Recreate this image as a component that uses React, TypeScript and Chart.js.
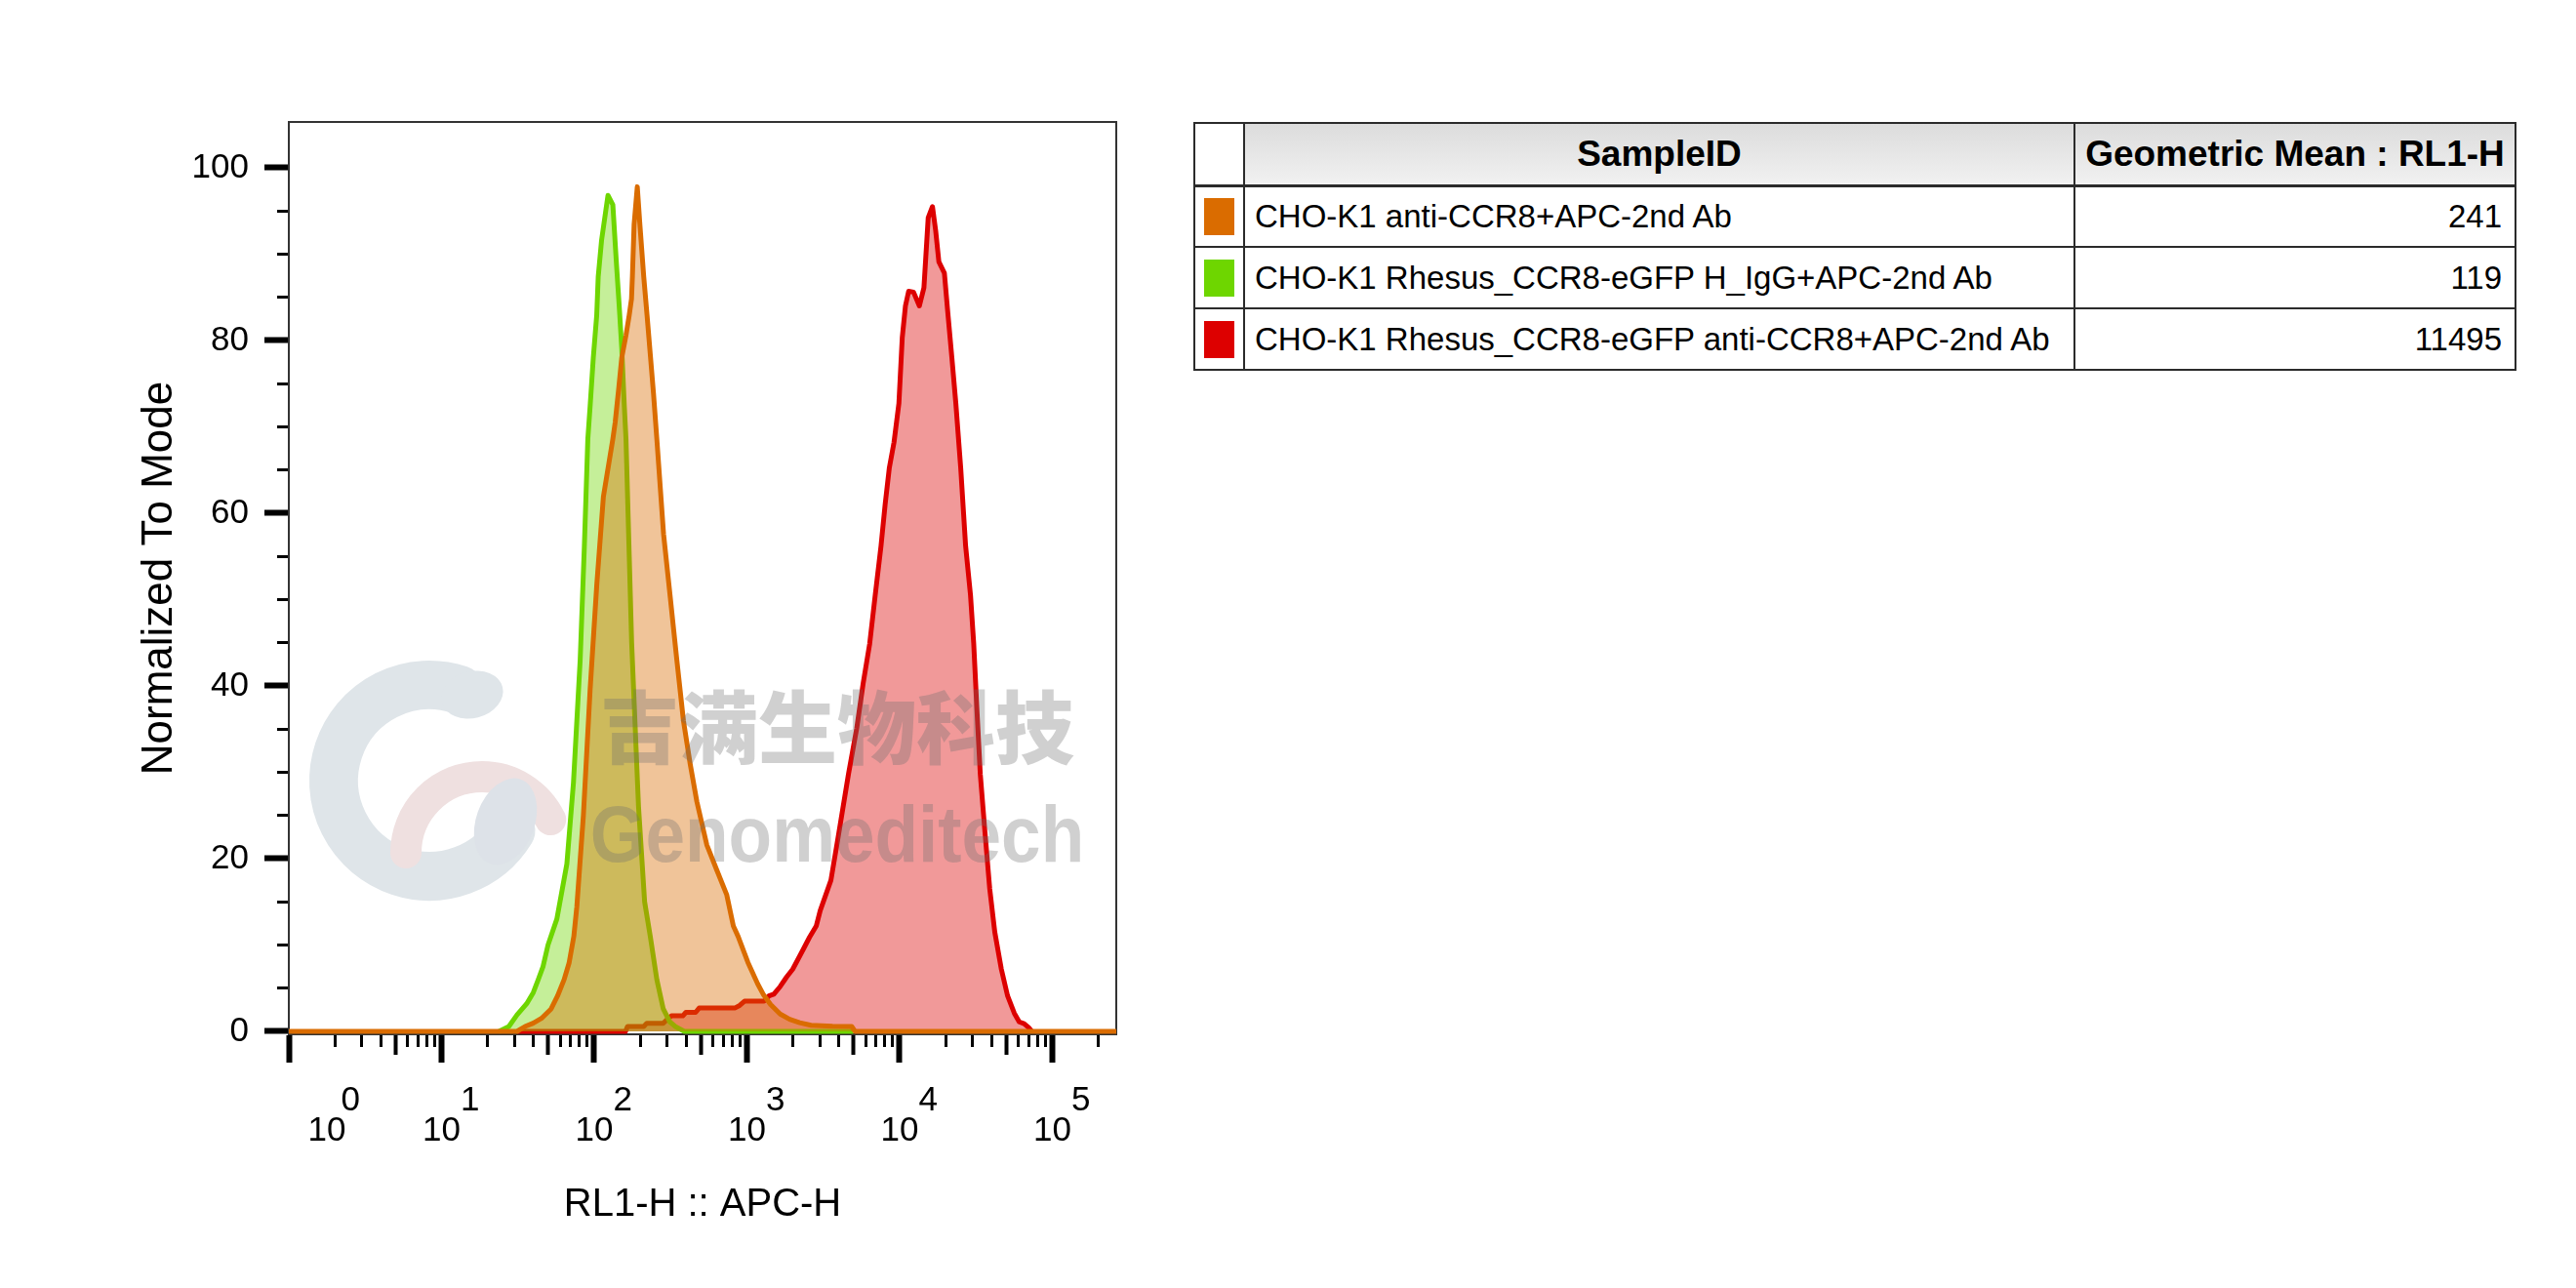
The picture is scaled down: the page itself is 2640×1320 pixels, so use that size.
import React, { useEffect, useRef } from "react";
import { Chart, registerables } from "chart.js";

Chart.register(...registerables);

// ---------- data ----------
const sampleIds = [
  "CHO-K1 anti-CCR8+APC-2nd Ab",
  "CHO-K1 Rhesus_CCR8-eGFP H_IgG+APC-2nd Ab",
  "CHO-K1 Rhesus_CCR8-eGFP anti-CCR8+APC-2nd Ab",
];
const geoMeans = [241, 119, 11495];
const lineColors = ["#DA6C00", "#6ED600", "#DD0000"];
const fillColors = ["rgba(218,108,0,0.4)", "rgba(110,214,0,0.4)", "rgba(221,0,0,0.4)"];

const headerSample = "SampleID";
const headerMean = "Geometric Mean : RL1-H";
const xTitle = "RL1-H :: APC-H";
const yTitle = "Normalized To Mode";
const watermarkCn = "吉满生物科技";
const watermarkEn = "Genomeditech";

const orangeX = [1, 31.2, 35.2, 39.8, 45.1, 52.2, 57.5, 63.5, 68.4, 73.5, 76.9, 84.9, 94.0, 104.0, 114.8, 132.4, 137.1, 144.2, 151.4, 161.4, 169.4, 175.4, 177.8, 182.4, 191.4, 199.1, 210.9, 221.8, 232.8, 244.3, 257.0, 284.4, 314.1, 347.5, 383.7, 424.6, 469.9, 545.8, 633.9, 737.9, 814.7, 875, 1014, 1175, 1288, 1429, 1652, 1905, 2218, 2630, 3631, 4853, 5105, 262144];
const orangeY = [0, 0, 0.56, 0.94, 1.5, 2.6, 4.1, 6, 7.9, 11, 14.4, 25, 39.6, 51.8, 61.9, 68.6, 70.5, 74.2, 78, 80.6, 82.9, 84.8, 87.4, 93.4, 97.8, 93.4, 87.4, 82.9, 78.4, 73.9, 68.6, 57.6, 50.4, 43, 36, 31, 26.6, 21.6, 18.7, 15.8, 12.2, 11, 8, 5.5, 4.2, 3.1, 2, 1.4, 1.0, 0.7, 0.6, 0.56, 0, 0];

const greenX = [23.8, 27.6, 31.2, 36.1, 39.9, 43.0, 46.2, 49.8, 56.9, 66.2, 73.1, 80.9, 86.1, 90.8, 94.0, 98.6, 103.8, 106.2, 111.7, 123.0, 132.4, 139.3, 146.2, 151.4, 157.4, 161.4, 175.8, 195.0, 213.8, 232.8, 257.0, 283.1, 312.6, 343.6, 389.0, 4977];
const greenY = [0, 0.56, 1.9, 3.2, 4.5, 6, 7.5, 10, 13, 19.4, 28.8, 43, 56, 68.6, 72.4, 78, 82.9, 87.4, 91.6, 96.8, 95.7, 89.3, 83.6, 79.1, 72.4, 68.6, 45, 26, 15, 11, 6, 2.6, 1.1, 0.5, 0, 0];

const redX = [31.2, 160.3, 165.2, 210.9, 220.8, 283.1, 297.2, 319.9, 380.2, 398.1, 461.4, 486.4, 831.8, 895.4, 963.8, 1294, 1393, 1500, 1652, 1820, 1995, 2323, 2570, 2843, 3020, 3548, 4000, 4624, 5236, 5768, 6368, 6918, 7551, 8035, 8551, 9183, 9886, 10399, 10914, 11455, 12331, 13459, 14421, 15382, 16406, 17219, 18072, 19634, 20654, 21979, 23335, 25119, 27040, 29110, 30550, 32060, 33730, 36220, 38900, 41976, 46345, 50933, 56364, 60674, 65313, 70307, 73451];
const redY = [0, 0, 0.56, 0.56, 0.94, 0.94, 1.3, 1.8, 1.8, 2.2, 2.2, 2.7, 2.7, 3.0, 3.5, 3.5, 4.1, 4.3, 5.2, 6.3, 7.2, 9.4, 10.9, 12.2, 14, 17.5, 23, 29.8, 35.1, 40.3, 44.9, 50.5, 56.2, 61, 65.2, 68.2, 72.7, 80.3, 84, 85.7, 85.6, 84, 86.1, 94.2, 95.5, 92.7, 89.1, 87.8, 83.3, 78, 72.7, 65.2, 56.2, 50.5, 44.9, 37.3, 29.8, 23, 16.5, 11.5, 7.2, 4.1, 2.1, 1.1, 0.9, 0.4, 0];

const xMin = 1;
const xMax = 262144;
const yMin = -0.34;
const yMax = 105.3;

const xMajorTicks = [1, 10, 100, 1000, 10000, 100000];
const xMidTicks = [5, 50, 500, 5000, 50000];
const xMinorTicks = [
  2, 3, 4, 6, 7, 8, 9,
  20, 30, 40, 60, 70, 80, 90,
  200, 300, 400, 600, 700, 800, 900,
  2000, 3000, 4000, 6000, 7000, 8000, 9000,
  20000, 30000, 40000, 60000, 70000, 80000, 90000,
  200000,
];
const yMajorTicks = [0, 20, 40, 60, 80, 100];
const yMinorTicks = [5, 10, 15, 25, 30, 35, 45, 50, 55, 65, 70, 75, 85, 90, 95];

const FONT = "'Liberation Sans', Arial, Helvetica, sans-serif";

const toPoints = (xs: number[], ys: number[]) => xs.map((x, i) => ({ x, y: ys[i] }));

// Company logo (background decoration), drawn under the histograms
const logoPlugin = {
  id: "logo",
  beforeDatasetsDraw(chart: any) {
    const ctx = chart.ctx as CanvasRenderingContext2D;
    ctx.save();
    ctx.lineCap = "round";
    ctx.strokeStyle = "#dfe5e9";
    ctx.lineWidth = 50;
    ctx.beginPath();
    ctx.arc(440, 800, 98, -1.25, 0.55, true);
    ctx.stroke();
    ctx.fillStyle = "#dfe5e9";
    ctx.beginPath();
    ctx.ellipse(484, 712, 32, 24, -0.25, 0, Math.PI * 2);
    ctx.fill();
    ctx.strokeStyle = "#efe0e0";
    ctx.lineWidth = 32;
    ctx.beginPath();
    ctx.arc(494, 874, 78, Math.PI, Math.PI * 2 - 0.45, false);
    ctx.stroke();
    ctx.fillStyle = "#dde2e8";
    ctx.beginPath();
    ctx.ellipse(518, 842, 30, 46, 0.35, 0, Math.PI * 2);
    ctx.fill();
    ctx.restore();
  },
};

// Watermark text, drawn over the histograms
const watermarkPlugin = {
  id: "watermark",
  afterDatasetsDraw(chart: any) {
    const ctx = chart.ctx as CanvasRenderingContext2D;
    ctx.save();
    ctx.fillStyle = "rgba(110,110,110,0.32)";
    ctx.textAlign = "center";
    ctx.textBaseline = "middle";
    ctx.font = "900 81px 'Noto Sans CJK SC'";
    ctx.fillText(watermarkCn, 858, 745);
    ctx.translate(858, 883);
    ctx.scale(0.9, 1);
    ctx.textBaseline = "alphabetic";
    ctx.font = `bold 81px ${FONT}`;
    ctx.fillText(watermarkEn, 0, 0);
    ctx.restore();
  },
};

function xLabel(v: number, i: number) {
  const e = String(Math.round(Math.log10(v)));
  if (i === 0) return [" ".repeat(13) + e, " ".repeat(8) + "10"];
  return [" ".repeat(6) + e, "10"];
}

export default function App() {
  const canvasRef = useRef<HTMLCanvasElement | null>(null);

  useEffect(() => {
    if (!canvasRef.current) return;
    const setTicks = (vals: number[]) => (scale: any) => {
      scale.ticks = vals.map((value) => ({ value }));
    };
    const chart = new Chart(canvasRef.current, {
      type: "line",
      data: {
        datasets: [
          { label: sampleIds[0], data: toPoints(orangeX, orangeY), borderColor: lineColors[0], backgroundColor: fillColors[0] },
          { label: sampleIds[1], data: toPoints(greenX, greenY), borderColor: lineColors[1], backgroundColor: fillColors[1] },
          { label: sampleIds[2], data: toPoints(redX, redY), borderColor: lineColors[2], backgroundColor: fillColors[2] },
        ].map((d) => ({
          ...d,
          fill: "origin",
          borderWidth: 5,
          pointRadius: 0,
          tension: 0,
          borderJoinStyle: "round" as const,
          xAxisID: "x",
          yAxisID: "y",
        })),
      },
      options: {
        responsive: false,
        animation: false,
        devicePixelRatio: 1,
        layout: { padding: { top: 125, right: 56, left: 0, bottom: 0 } },
        plugins: { legend: { display: false }, tooltip: { enabled: false } },
        scales: {
          x: {
            type: "logarithmic",
            position: "bottom",
            weight: 2,
            min: xMin,
            max: xMax,
            afterBuildTicks: setTicks(xMajorTicks),
            afterFit: (s: any) => { s.height = 260; },
            grid: { drawOnChartArea: false, tickLength: 29, tickWidth: 6, tickColor: "#000" },
            border: { display: true, color: "#333", width: 2 },
            ticks: {
              autoSkip: false,
              maxRotation: 0,
              minRotation: 0,
              padding: 24,
              color: "#000",
              font: { family: FONT, size: 35, lineHeight: 0.886 },
              callback: (v: any, i: number) => xLabel(Number(v), i),
            },
            title: {
              display: true,
              text: xTitle,
              color: "#000",
              font: { family: FONT, size: 40 },
              padding: { top: 0, bottom: 61 },
            },
          },
          xMid: {
            type: "logarithmic",
            position: "bottom",
            weight: 1,
            min: xMin,
            max: xMax,
            afterBuildTicks: setTicks(xMidTicks),
            afterFit: (s: any) => { s.height = 0; },
            grid: { drawOnChartArea: false, tickLength: 21, tickWidth: 4, tickColor: "#000" },
            border: { display: false },
            ticks: { display: false },
          },
          xMinor: {
            type: "logarithmic",
            position: "bottom",
            weight: 0,
            min: xMin,
            max: xMax,
            afterBuildTicks: setTicks(xMinorTicks),
            afterFit: (s: any) => { s.height = 0; },
            grid: { drawOnChartArea: false, tickLength: 13, tickWidth: 3, tickColor: "#000" },
            border: { display: false },
            ticks: { display: false },
          },
          xTop: {
            type: "logarithmic",
            position: "top",
            min: xMin,
            max: xMax,
            afterFit: (s: any) => { s.height = 0; },
            grid: { display: false },
            border: { display: true, color: "#333", width: 2 },
            ticks: { display: false },
          },
          y: {
            type: "linear",
            position: "left",
            weight: 1,
            min: yMin,
            max: yMax,
            afterBuildTicks: setTicks(yMajorTicks),
            afterFit: (s: any) => { s.width = 296; },
            grid: { drawOnChartArea: false, tickLength: 25, tickWidth: 6, tickColor: "#000" },
            border: { display: true, color: "#333", width: 2 },
            ticks: {
              padding: 16,
              color: "#000",
              font: { family: FONT, size: 35 },
            },
            title: {
              display: true,
              text: yTitle,
              color: "#000",
              font: { family: FONT, size: 44 },
              padding: { top: 137, bottom: 0 },
            },
          },
          yMinor: {
            type: "linear",
            position: "left",
            weight: 0,
            min: yMin,
            max: yMax,
            afterBuildTicks: setTicks(yMinorTicks),
            afterFit: (s: any) => { s.width = 0; },
            grid: { drawOnChartArea: false, tickLength: 12, tickWidth: 3, tickColor: "#000" },
            border: { display: false },
            ticks: { display: false },
          },
          yRight: {
            type: "linear",
            position: "right",
            min: yMin,
            max: yMax,
            afterFit: (s: any) => { s.width = 0; },
            grid: { display: false },
            border: { display: true, color: "#333", width: 2 },
            ticks: { display: false },
          },
        },
      } as any,
      plugins: [logoPlugin, watermarkPlugin],
    });
    return () => chart.destroy();
  }, []);

  const border = "2px solid #2b2b2b";
  const headCell: React.CSSProperties = {
    border,
    borderBottom: "3px solid #2b2b2b",
    background: "linear-gradient(#dcdcdc, #f1f1f1)",
    fontWeight: "bold",
    fontSize: 37,
    textAlign: "center",
    padding: 0,
    whiteSpace: "nowrap",
  };
  const cell: React.CSSProperties = {
    border,
    fontSize: 33,
    padding: 0,
    whiteSpace: "nowrap",
  };

  return (
    <div style={{ position: "absolute", left: 0, top: 0, width: 2640, height: 1320, background: "#fff", overflow: "hidden" }}>
      <canvas ref={canvasRef} width={1200} height={1320} style={{ position: "absolute", left: 0, top: 0, width: 1200, height: 1320 }} />
      <table
        style={{
          position: "absolute",
          left: 1223,
          top: 125,
          width: 1354,
          borderCollapse: "collapse",
          tableLayout: "fixed",
          fontFamily: FONT,
          color: "#000",
        }}
      >
        <colgroup>
          <col style={{ width: 51 }} />
          <col style={{ width: 851 }} />
          <col style={{ width: 452 }} />
        </colgroup>
        <thead>
          <tr style={{ height: 64 }}>
            <th style={{ ...headCell, background: "#fff" }}></th>
            <th style={headCell}>{headerSample}</th>
            <th style={headCell}>{headerMean}</th>
          </tr>
        </thead>
        <tbody>
          {sampleIds.map((id, i) => (
            <tr key={id} style={{ height: 63 }}>
              <td style={{ ...cell, textAlign: "center" }}>
                <div style={{ width: 31, height: 38, background: lineColors[i], margin: "0 auto" }} />
              </td>
              <td style={{ ...cell, paddingLeft: 10 }}>{id}</td>
              <td style={{ ...cell, textAlign: "right", paddingRight: 13 }}>{geoMeans[i]}</td>
            </tr>
          ))}
        </tbody>
      </table>
    </div>
  );
}
